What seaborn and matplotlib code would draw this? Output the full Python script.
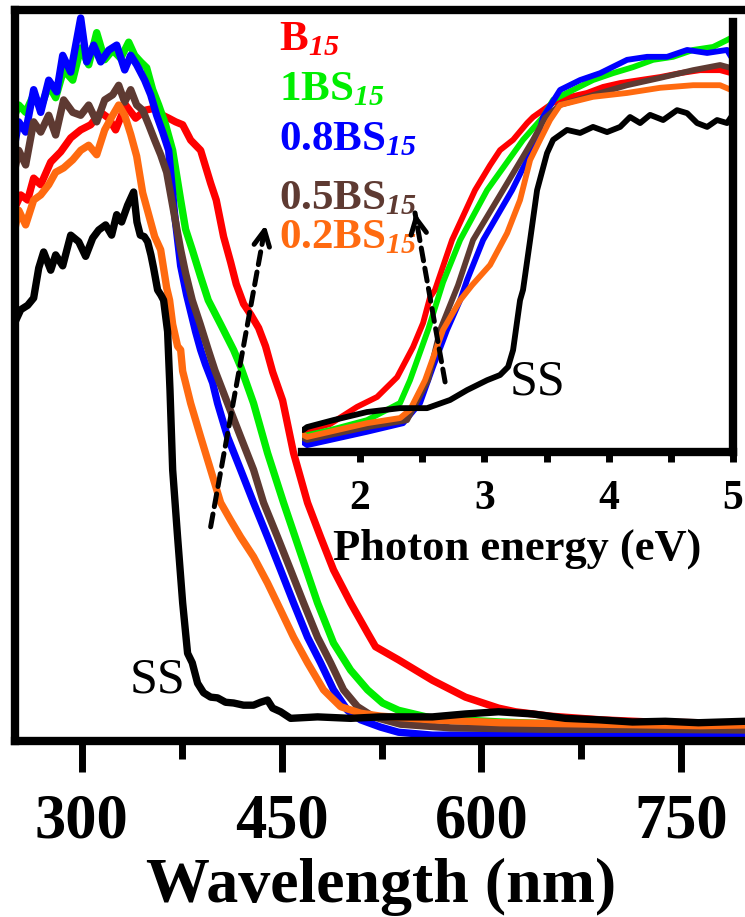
import matplotlib
matplotlib.use("Agg")
import matplotlib.pyplot as plt
from matplotlib.ticker import FixedLocator
import pandas as pd
import seaborn as sns

# ---------------- main panel data (wavelength nm, absorbance a.u.) ----------------
wl_B15 = [249, 254.3, 259.5, 264, 269.3, 276.8, 284.3, 291.8, 299.3, 306.8, 314.3, 320.3, 325.5, 333, 340.5,
          348, 355.5, 360.8, 365.3, 370.5, 375.8, 381.8, 389.3, 396.8, 401, 406.5, 411.8, 416, 421.5, 427,
          432.8, 438, 443.3, 450.8, 459, 469.5, 479.3, 489, 501.8, 514.5, 520.5, 537.8, 563.3, 588, 612.8,
          625.5, 651.8, 689.3, 726.8, 764.3, 798]
ab_B15 = [0.726, 0.747, 0.740, 0.770, 0.761, 0.792, 0.806, 0.825, 0.836, 0.843, 0.860, 0.852, 0.836, 0.870, 0.852,
          0.863, 0.866, 0.856, 0.852, 0.847, 0.843, 0.822, 0.808, 0.763, 0.740, 0.690, 0.655, 0.625, 0.598, 0.583,
          0.565, 0.540, 0.505, 0.466, 0.394, 0.326, 0.279, 0.234, 0.189, 0.148, 0.129, 0.111, 0.083, 0.060, 0.045,
          0.040, 0.034, 0.029, 0.026, 0.025, 0.023]

wl_1BS = [249, 252.8, 258, 264, 269.3, 275.3, 280.5, 286.5, 293.3, 299.3, 305.3, 311.3, 317.3, 323.3, 329.3,
          335.3, 339.8, 344.3, 348.8, 353.3, 357.8, 363, 368.3, 374.3, 378, 383, 389.3, 395, 404.3, 414,
          419.3, 429, 439.5, 451.5, 464.3, 477, 489, 501.8, 514.5, 525.8, 537.8, 563.3, 614.3, 689.3, 764.3, 798]
ab_1BS = [0.852, 0.870, 0.860, 0.884, 0.866, 0.897, 0.880, 0.918, 0.904, 0.948, 0.925, 0.969, 0.932, 0.945, 0.934,
          0.956, 0.938, 0.929, 0.921, 0.891, 0.870, 0.843, 0.808, 0.740, 0.700, 0.672, 0.635, 0.603, 0.570, 0.535,
          0.512, 0.462, 0.394, 0.326, 0.257, 0.189, 0.134, 0.097, 0.070, 0.052, 0.042, 0.031, 0.026, 0.021, 0.018, 0.018]

wl_08BS = [249, 252.8, 258, 264, 269.3, 275.3, 281.3, 285.8, 291.8, 299.3, 303.8, 309, 314.3, 320.3, 326.3,
           332.3, 336.8, 341.3, 347.3, 351.8, 356.3, 360.8, 365.3, 369.8, 374.3, 378.8, 385.5, 389.3, 393, 398.3,
           402, 409.5, 419.3, 429, 439.5, 449.3, 459, 469.5, 479.3, 489, 499.5, 509.3, 524.3, 537.8, 563.3,
           614.3, 689.3, 764.3, 798]
ab_08BS = [0.808, 0.847, 0.833, 0.891, 0.860, 0.904, 0.888, 0.938, 0.915, 0.989, 0.929, 0.952, 0.929, 0.945, 0.952,
           0.918, 0.938, 0.925, 0.904, 0.884, 0.856, 0.833, 0.808, 0.720, 0.650, 0.610, 0.560, 0.535, 0.515, 0.490,
           0.462, 0.416, 0.371, 0.326, 0.279, 0.234, 0.189, 0.142, 0.107, 0.070, 0.042, 0.029, 0.019, 0.012, 0.008,
           0.008, 0.010, 0.008, 0.010]

wl_05BS = [249, 252.8, 258, 264, 269.3, 275.3, 280.5, 286.5, 293.3, 299.3, 305.3, 311.3, 317.3, 323.3, 327.8,
           332.3, 336.8, 341.3, 345.8, 350.3, 354.8, 359.3, 363.8, 370.5, 374.3, 378, 383, 389, 395, 400,
           409.5, 419.3, 429, 436.5, 447, 456.8, 466.5, 477, 486.8, 496.5, 507, 519, 539.3, 576.8, 651.8, 726.8, 798]
ab_05BS = [0.774, 0.808, 0.788, 0.847, 0.833, 0.856, 0.829, 0.877, 0.860, 0.856, 0.870, 0.847, 0.877, 0.884, 0.897,
           0.874, 0.891, 0.870, 0.863, 0.843, 0.822, 0.802, 0.778, 0.710, 0.672, 0.640, 0.603, 0.570, 0.535, 0.507,
           0.462, 0.416, 0.371, 0.326, 0.279, 0.234, 0.189, 0.142, 0.107, 0.070, 0.047, 0.033, 0.023, 0.018, 0.016,
           0.016, 0.015]

wl_02BS = [249, 252.8, 258, 264, 269.3, 275.3, 280.5, 286.5, 293.3, 299.3, 305.3, 311.3, 317.3, 323.3, 327.8,
           332.3, 336.8, 341.3, 345.8, 350.3, 354.8, 359.3, 363.8, 366, 368.3, 372, 374.3, 375.8, 378, 381.8,
           389.3, 396.8, 404.3, 411.8, 419.3, 429, 439.5, 449.3, 459, 469.5, 481.5, 494.3, 509.3, 524.3, 563.3,
           614.3, 689.3, 764.3, 798]
ab_02BS = [0.692, 0.726, 0.706, 0.740, 0.747, 0.761, 0.778, 0.784, 0.795, 0.808, 0.815, 0.802, 0.836, 0.856, 0.870,
           0.856, 0.830, 0.800, 0.750, 0.720, 0.690, 0.672, 0.620, 0.603, 0.570, 0.540, 0.535, 0.506, 0.490, 0.462,
           0.416, 0.371, 0.326, 0.302, 0.279, 0.252, 0.216, 0.179, 0.142, 0.107, 0.070, 0.047, 0.038, 0.034, 0.029,
           0.025, 0.023, 0.021, 0.022]

wl_SS = [249, 254.3, 259.5, 264, 267.8, 271.5, 276.8, 280.5, 285.8, 291.8, 297.8, 303, 308.3, 312.8, 318,
         322.5, 326.3, 330, 334.5, 339, 341.5, 344, 347, 349.5, 352, 354, 357, 359.5, 361.5, 364.5,
         366.3, 368.3, 372, 375.8, 379.5, 383, 387, 391.5, 396.8, 402, 408, 414, 421.5, 429, 434.3,
         439.5, 443.3, 449.3, 456.8, 477, 501.8, 524.3, 563.3, 588, 612.8, 638.3, 663, 687.8, 713.3, 738,
         762.8, 798]
ab_SS = [0.569, 0.590, 0.596, 0.606, 0.647, 0.669, 0.644, 0.665, 0.650, 0.692, 0.683, 0.663, 0.688, 0.699, 0.706,
         0.692, 0.720, 0.710, 0.733, 0.751, 0.710, 0.692, 0.690, 0.683, 0.665, 0.647, 0.617, 0.610, 0.603, 0.560,
         0.480, 0.371, 0.279, 0.189, 0.120, 0.107, 0.079, 0.066, 0.060, 0.059, 0.053, 0.052, 0.049, 0.049, 0.053,
         0.056, 0.045, 0.040, 0.031, 0.033, 0.031, 0.033, 0.033, 0.037, 0.040, 0.037, 0.031, 0.029, 0.026, 0.027,
         0.025, 0.027]

# ---------------- inset data (photon energy eV, a.u.) ----------------
ev_B15 = [1.541, 1.759, 1.976, 2.137, 2.298, 2.426, 2.507, 2.563, 2.603, 2.740, 2.925, 3.046, 3.126, 3.231, 3.344,
          3.392, 3.553, 3.689, 3.826, 3.955, 4.092, 4.253, 4.414, 4.574, 4.735, 4.896, 4.985]
in_B15 = [0.047, 0.065, 0.105, 0.128, 0.174, 0.244, 0.300, 0.360, 0.377, 0.493, 0.609, 0.667, 0.702, 0.726, 0.765,
          0.779, 0.812, 0.826, 0.835, 0.849, 0.858, 0.865, 0.872, 0.881, 0.888, 0.888, 0.881]

ev_1BS = [1.541, 1.759, 2.056, 2.322, 2.402, 2.547, 2.668, 2.805, 3.022, 3.311, 3.472, 3.553, 3.714, 3.874, 4.035,
          4.196, 4.357, 4.518, 4.679, 4.840, 4.952, 4.985]
in_1BS = [0.037, 0.051, 0.074, 0.114, 0.167, 0.284, 0.395, 0.493, 0.609, 0.726, 0.779, 0.819, 0.842, 0.865, 0.881,
          0.895, 0.912, 0.919, 0.935, 0.942, 0.958, 0.963]

ev_08BS = [1.541, 1.574, 2.056, 2.346, 2.483, 2.587, 2.700, 2.805, 2.861, 2.990, 3.223, 3.424, 3.472, 3.609, 3.770,
           3.931, 4.148, 4.309, 4.470, 4.631, 4.792, 4.952, 4.985]
in_08BS = [0.023, 0.016, 0.047, 0.067, 0.114, 0.198, 0.284, 0.353, 0.400, 0.493, 0.609, 0.726, 0.779, 0.842, 0.865,
           0.881, 0.912, 0.919, 0.919, 0.935, 0.928, 0.935, 0.919]

ev_05BS = [1.541, 1.574, 2.056, 2.378, 2.547, 2.644, 2.788, 2.909, 3.150, 3.392, 3.488, 3.609, 3.874, 4.148, 4.414,
           4.679, 4.896, 4.985]
in_05BS = [0.033, 0.028, 0.058, 0.074, 0.167, 0.284, 0.388, 0.493, 0.609, 0.726, 0.777, 0.807, 0.830, 0.853, 0.870,
           0.888, 0.900, 0.893]

ev_02BS = [1.541, 1.574, 2.056, 2.322, 2.402, 2.523, 2.668, 2.805, 2.901, 3.046, 3.183, 3.287, 3.368, 3.448, 3.528,
           3.609, 3.874, 4.148, 4.414, 4.679, 4.896, 4.985]
in_02BS = [0.040, 0.035, 0.067, 0.079, 0.098, 0.167, 0.284, 0.353, 0.388, 0.435, 0.509, 0.586, 0.679, 0.726, 0.772,
           0.807, 0.826, 0.835, 0.847, 0.853, 0.853, 0.842]

ev_SS = [1.541, 1.574, 1.783, 2.056, 2.322, 2.539, 2.724, 2.861, 3.022, 3.126, 3.191, 3.231, 3.287, 3.311, 3.368,
         3.424, 3.504, 3.553, 3.665, 3.770, 3.874, 3.987, 4.092, 4.172, 4.253, 4.333, 4.438, 4.550, 4.631, 4.711,
         4.792, 4.872, 4.952, 4.985]
in_SS = [0.051, 0.058, 0.074, 0.093, 0.102, 0.102, 0.121, 0.144, 0.167, 0.179, 0.198, 0.237, 0.353, 0.377, 0.493,
         0.609, 0.695, 0.726, 0.749, 0.742, 0.756, 0.744, 0.756, 0.779, 0.765, 0.784, 0.772, 0.795, 0.788, 0.765,
         0.756, 0.772, 0.765, 0.779]

samples = ["B15", "1BS15", "0.8BS15", "0.5BS15", "0.2BS15", "SS"]
sample_labels = [r"$\mathbf{B}_{\mathsf{15}}$", r"$\mathbf{1BS}_{\mathsf{15}}$", r"$\mathbf{0.8BS}_{\mathsf{15}}$",
                 r"$\mathbf{0.5BS}_{\mathsf{15}}$", r"$\mathbf{0.2BS}_{\mathsf{15}}$"]
colors = ["#ff0000", "#00ee00", "#0000ff", "#5e3a32", "#ff6a10", "#000000"]
main_ticks = [300, 450, 600, 750]
main_minor = [375, 525, 675]
inset_ticks = [2, 3, 4, 5]
inset_minor = [2.5, 3.5, 4.5]


def to_long(xs, ys, xname, yname):
    frames = [pd.DataFrame({xname: x, yname: y, "sample": n}) for x, y, n in zip(xs, ys, samples)]
    return pd.concat(frames, ignore_index=True)


main_df = to_long([wl_B15, wl_1BS, wl_08BS, wl_05BS, wl_02BS, wl_SS],
                  [ab_B15, ab_1BS, ab_08BS, ab_05BS, ab_02BS, ab_SS], "wavelength", "absorbance")
inset_df = to_long([ev_B15, ev_1BS, ev_08BS, ev_05BS, ev_02BS, ev_SS],
                   [in_B15, in_1BS, in_08BS, in_05BS, in_02BS, in_SS], "energy", "absorbance")

sns.set_theme(style="white")
plt.rcParams["font.family"] = ["Liberation Serif", "DejaVu Serif"]
plt.rcParams["mathtext.fontset"] = "custom"
plt.rcParams["mathtext.rm"] = "Liberation Serif:bold"
plt.rcParams["mathtext.bf"] = "Liberation Serif:bold"
plt.rcParams["mathtext.it"] = "Liberation Serif:italic:bold"
plt.rcParams["mathtext.sf"] = "Liberation Serif:italic:bold"

fig = plt.figure(figsize=(7.45, 9.17), dpi=100)
ax = fig.add_axes([15 / 745, 176 / 917, 733 / 745, 731 / 917])

sns.lineplot(data=main_df, x="wavelength", y="absorbance", hue="sample", hue_order=samples,
             palette=colors, estimator=None, sort=False, linewidth=5.3, legend=False, ax=ax)

ax.set_xlim(250, 800)
ax.set_ylim(0, 1)
ax.set_yticks([])
ax.set_ylabel("")
ax.xaxis.set_major_locator(FixedLocator(main_ticks))
ax.xaxis.set_minor_locator(FixedLocator(main_minor))
ax.tick_params(axis="x", which="major", direction="out", length=22, width=5, color="black",
               bottom=True, labelsize=45, pad=16, labelcolor="black")
ax.tick_params(axis="x", which="minor", direction="out", length=13, width=5, color="black", bottom=True)
for lab in ax.get_xticklabels():
    lab.set_fontweight("bold")
for s in ax.spines.values():
    s.set_linewidth(6)
    s.set_color("black")
ax.set_xlabel("Wavelength (nm)", fontsize=46, fontweight="bold", color="black", labelpad=4)

# legend-like labels
label_y = [0.945, 0.877, 0.808, 0.728, 0.674]
for txt, col, yb in zip(sample_labels, colors, label_y):
    ax.text(447.8, yb, txt, color=col, fontsize=31, ha="left", va="baseline")

ax.text(378, 0.066, "SS", fontsize=36, fontweight="normal", color="black", ha="right", va="baseline")

# dashed arrow in main panel
tail, head = (396.8, 0.293), (438.0, 0.706)
ax.annotate("", xy=head, xytext=tail,
            arrowprops=dict(arrowstyle="-", linestyle=(0, (2.6, 1.5)), lw=3.6, color="black",
                            shrinkA=0, shrinkB=0))
ax.annotate("", xy=head, xytext=(tail[0] + 0.95 * (head[0] - tail[0]), tail[1] + 0.95 * (head[1] - tail[1])),
            arrowprops=dict(arrowstyle="->", lw=3.6, color="black", mutation_scale=28, shrinkA=0, shrinkB=0))

# ---------------- inset ----------------
axi = fig.add_axes([302 / 745, 465 / 917, 431 / 745, 430 / 917])
axi.patch.set_alpha(0)
sns.lineplot(data=inset_df, x="energy", y="absorbance", hue="sample", hue_order=samples,
             palette=colors, estimator=None, sort=False, linewidth=4.2, legend=False, ax=axi)
axi.set_xlim(1.533, 5.0)
axi.set_ylim(0, 1)
axi.set_yticks([])
axi.set_ylabel("")
axi.xaxis.set_major_locator(FixedLocator(inset_ticks))
axi.xaxis.set_minor_locator(FixedLocator(inset_minor))
axi.tick_params(axis="x", which="both", direction="out", length=7, width=5, color="black",
                bottom=True, labelsize=30, pad=13, labelcolor="black")
for lab in axi.get_xticklabels():
    lab.set_fontweight("bold")
axi.spines["top"].set_visible(False)
axi.spines["left"].set_visible(False)
for k in ("bottom", "right"):
    axi.spines[k].set_linewidth(6)
    axi.spines[k].set_color("black")
axi.set_xlabel("Photon energy (eV)", fontsize=32, fontweight="bold", color="black", labelpad=8)

axi.text(3.207, 0.133, "SS", fontsize=36, fontweight="normal", color="black", ha="left", va="baseline")

tail_i, head_i = (2.684, 0.163), (2.442, 0.556)
axi.annotate("", xy=head_i, xytext=tail_i,
             arrowprops=dict(arrowstyle="-", linestyle=(0, (2.6, 1.5)), lw=3.6, color="black",
                             shrinkA=0, shrinkB=0))
axi.annotate("", xy=head_i, xytext=(tail_i[0] + 0.95 * (head_i[0] - tail_i[0]),
                                    tail_i[1] + 0.95 * (head_i[1] - tail_i[1])),
             arrowprops=dict(arrowstyle="->", lw=3.6, color="black", mutation_scale=28, shrinkA=0, shrinkB=0))

fig.savefig("out.png", dpi=100)
